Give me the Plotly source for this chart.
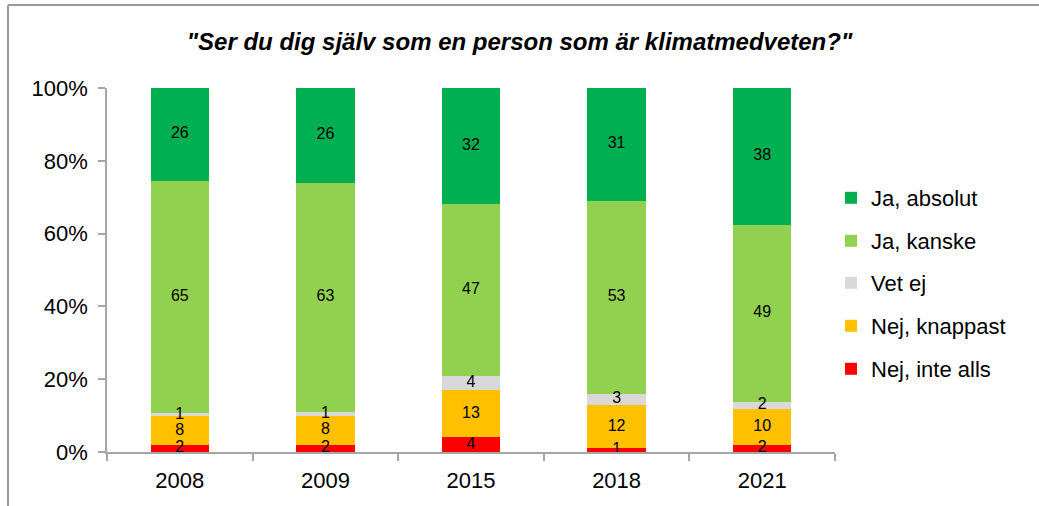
import plotly.graph_objects as go

years = ["2008", "2009", "2015", "2018", "2021"]
nej_inte_alls = [2, 2, 4, 1, 2]
nej_knappast = [8, 8, 13, 12, 10]
vet_ej = [1, 1, 4, 3, 2]
ja_kanske = [65, 63, 47, 53, 49]
ja_absolut = [26, 26, 32, 31, 38]
y_ticks = [0, 20, 40, 60, 80, 100]
y_tick_labels = ["0%", "20%", "40%", "60%", "80%", "100%"]

series = [
    ("Nej, inte alls", nej_inte_alls, "#FF0000"),
    ("Nej, knappast", nej_knappast, "#FFC000"),
    ("Vet ej", vet_ej, "#D9D9D9"),
    ("Ja, kanske", ja_kanske, "#92D050"),
    ("Ja, absolut", ja_absolut, "#00B050"),
]

W, H = 1039, 506
L, R, T, B = 107, 835, 88, 452
pw, ph = R - L, B - T

def px_x(x):
    return (x - L) / pw

def px_y(y):
    return (B - y) / ph

FONT = "Liberation Sans, Arial, sans-serif"

fig = go.Figure()
legend_y_px = {"Ja, absolut": 198, "Ja, kanske": 241, "Vet ej": 283,
               "Nej, knappast": 326, "Nej, inte alls": 369}
legend_layouts = {}
for i, (name, vals, col) in enumerate(series):
    lname = "legend" if i == 0 else f"legend{i+1}"
    fig.add_trace(go.Bar(
        x=years, y=vals, name=name, marker=dict(color=col, line=dict(width=0)),
        legend=lname, hoverinfo="skip",
    ))
    legend_layouts[lname] = dict(
        x=px_x(831), xanchor="left", y=px_y(legend_y_px[name]), yanchor="middle",
        font=dict(family=FONT, size=22, color="black"),
        bgcolor="rgba(0,0,0,0)", borderwidth=0,
    )

# data labels drawn on top of all bars, at the middle of each (normalised) segment
totals = [sum(s[1][j] for s in series) for j in range(len(years))]
bottom = [0.0] * len(years)
for name, vals, col in series:
    mids = [(bottom[j] + vals[j] / 2) / totals[j] * 100 for j in range(len(years))]
    bottom = [bottom[j] + vals[j] for j in range(len(years))]
    fig.add_trace(go.Scatter(
        x=years, y=mids, mode="text", text=[str(v) for v in vals],
        textposition="middle center", cliponaxis=False, showlegend=False,
        textfont=dict(family=FONT, size=16, color="black"), hoverinfo="skip",
    ))

fig.update_layout(
    barmode="stack", barnorm="percent", bargap=0.6,
    width=W, height=H,
    margin=dict(l=L, r=W - R, t=T, b=H - B, pad=0, autoexpand=False),
    paper_bgcolor="white", plot_bgcolor="white",
    showlegend=True,
    title=dict(text="\"Ser du dig själv som en person som är klimatmedveten?\"",
               x=0.5, xref="container", xanchor="center",
               y=1 - 42 / H, yref="container", yanchor="middle",
               font=dict(family=FONT, size=24, color="black", weight="bold", style="italic")),
    xaxis=dict(type="category", showline=True, linecolor="#A6A6A6", linewidth=1.5,
               ticks="outside", tickson="boundaries", ticklen=7, tickcolor="#A6A6A6",
               tickwidth=1.5, showgrid=False, ticklabelstandoff=8, automargin=False,
               tickfont=dict(family=FONT, size=22, color="black")),
    yaxis=dict(range=[0, 100], tickmode="array", tickvals=y_ticks, ticktext=y_tick_labels,
               showline=True, linecolor="#A6A6A6", linewidth=1.5, ticks="outside",
               ticklen=7, tickcolor="#A6A6A6", tickwidth=1.5, showgrid=False,
               zeroline=False, ticklabelstandoff=6, automargin=False,
               tickfont=dict(family=FONT, size=22, color="black")),
    **legend_layouts,
)

# outer chart frame (top and left edges visible)
fig.add_shape(type="line", xref="paper", yref="paper",
              x0=px_x(8), x1=px_x(W + 5), y0=px_y(5), y1=px_y(5),
              line=dict(color="#9A9A9A", width=2))
fig.add_shape(type="line", xref="paper", yref="paper",
              x0=px_x(8), x1=px_x(8), y0=px_y(5), y1=px_y(H + 5),
              line=dict(color="#9A9A9A", width=2))

fig.write_html("out.html", config={"displayModeBar": False},
               post_script="document.body.style.margin='0';document.body.style.overflow='hidden';")
